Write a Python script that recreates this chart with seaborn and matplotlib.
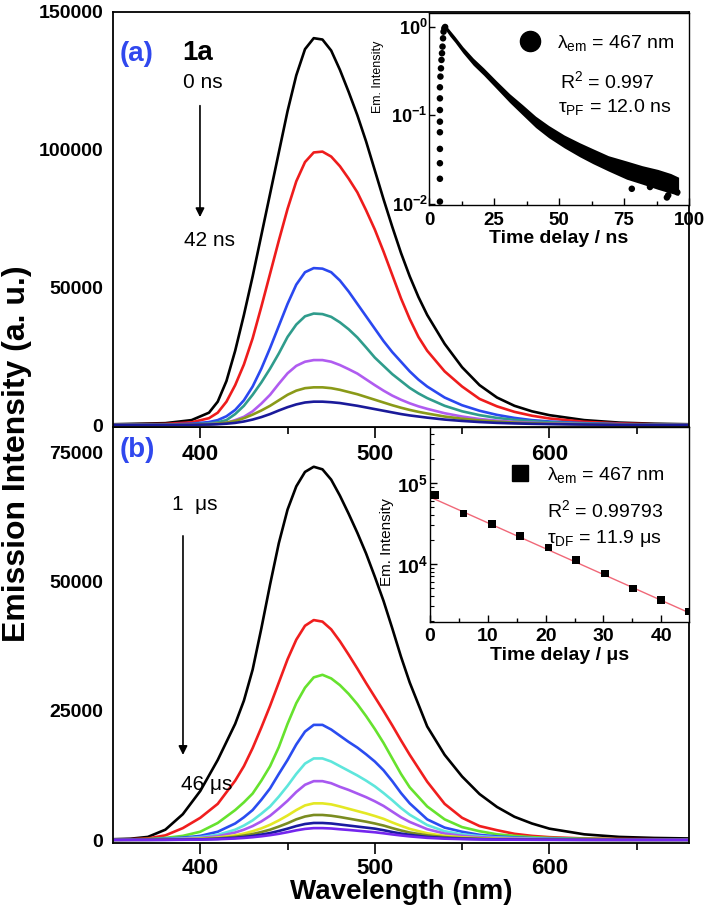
import numpy as np
import pandas as pd
import matplotlib
matplotlib.use("Agg")
import matplotlib.pyplot as plt
import seaborn as sns
from matplotlib.lines import Line2D
from matplotlib.ticker import FixedLocator, MultipleLocator, NullFormatter, LogLocator

# ---------------- data ----------------
# panel (a): prompt-fluorescence spectra, 0 ns -> 42 ns
wl_a = [350, 380, 395, 405, 410, 415, 420, 425, 430, 435, 440, 445, 450, 455, 460, 465, 470, 475, 480, 485,
        490, 495, 500, 505, 510, 515, 520, 525, 530, 540, 550, 560, 570, 580, 590, 600, 620, 640, 660, 680]
a_black = [300, 700, 1800, 4500, 8500, 16000, 27000, 40000, 54000, 69000, 84000, 99000, 114000, 127000, 136500, 140500, 140000, 136000, 129000, 121000,
           112500, 103000, 92500, 82000, 72000, 62500, 54000, 46500, 40000, 29500, 21000, 14500, 10000, 7000, 5000, 3600, 1800, 900, 500, 300]
a_red = [200, 400, 1000, 2500, 4500, 8500, 14500, 22000, 31500, 43000, 55000, 67000, 78500, 88500, 95500, 99000, 99300, 97500, 94000, 89500,
         84500, 78000, 71000, 63000, 54500, 46000, 38500, 32000, 27000, 19500, 14000, 9500, 6800, 4800, 3400, 2400, 1200, 600, 300, 200]
a_blue = [100, 200, 500, 1100, 1800, 3200, 5500, 9000, 14000, 20500, 28000, 36000, 44000, 51000, 55500, 57000, 56800, 55500, 52500, 48500,
          44000, 39500, 35000, 30500, 26500, 23000, 19500, 16500, 14000, 10000, 7200, 5200, 3700, 2600, 1800, 1300, 700, 350, 200, 100]
a_teal = [100, 150, 300, 600, 1000, 1800, 4000, 7000, 11000, 15500, 20500, 26000, 32000, 36500, 39500, 40500, 40300, 39300, 37300, 34800,
          31800, 28200, 24500, 21500, 18500, 16000, 13500, 11500, 9800, 7000, 5000, 3600, 2600, 1900, 1400, 1000, 550, 300, 150, 100]
a_violet = [50, 100, 200, 350, 500, 800, 1800, 3000, 5000, 7800, 11000, 15000, 18800, 21500, 23000, 23600, 23600, 23000, 21800, 20300,
            18700, 16600, 14500, 12500, 10700, 9200, 7900, 6800, 5900, 4300, 3100, 2200, 1600, 1150, 850, 600, 330, 180, 100, 50]
a_olive = [50, 80, 150, 250, 500, 900, 1500, 2500, 3800, 5300, 7000, 9000, 11000, 12500, 13400, 13700, 13700, 13400, 12800, 12000,
           11200, 10200, 9200, 8200, 7200, 6300, 5500, 4800, 4200, 3100, 2300, 1700, 1250, 900, 650, 480, 250, 130, 80, 50]
a_navy = [50, 60, 100, 200, 300, 500, 800, 1300, 2000, 2900, 4000, 5300, 6500, 7500, 8200, 8500, 8500, 8300, 8000, 7500,
          7000, 6400, 5800, 5200, 4600, 4000, 3500, 3100, 2700, 2000, 1500, 1100, 800, 600, 450, 350, 200, 100, 60, 50]
a_series = [a_black, a_red, a_blue, a_teal, a_violet, a_olive, a_navy]
a_delays = ["0 ns", "7 ns", "14 ns", "21 ns", "28 ns", "35 ns", "42 ns"]
a_colors = ["#000000", "#ee1c1c", "#2a48f0", "#2f9c8c", "#b05cf0", "#8a9a18", "#1a1a9a"]

# panel (b): delayed-fluorescence spectra, 1 us -> 46 us
wl_b = [350, 360, 370, 380, 390, 400, 410, 420, 425, 430, 435, 440, 445, 450, 455, 460, 465, 470, 475, 480,
        485, 490, 495, 500, 505, 510, 515, 520, 530, 540, 550, 560, 570, 580, 590, 600, 620, 640, 660, 680]
b_black = [150, 250, 600, 2000, 5000, 9500, 15500, 22500, 27000, 33000, 41000, 49500, 57500, 64000, 68500, 71300, 72300, 71800, 69800, 66700,
           63200, 59500, 55500, 51000, 46300, 41000, 35500, 30500, 22000, 16500, 12300, 8900, 6400, 4500, 3200, 2200, 1100, 600, 400, 300]
b_red = [100, 150, 300, 900, 2300, 4300, 7000, 11500, 14300, 17800, 21800, 26000, 30500, 35000, 38800, 41500, 42600, 42300, 40800, 38500,
         35900, 33200, 30400, 27700, 25000, 22200, 19300, 16500, 11300, 7000, 4300, 2700, 1900, 1200, 800, 550, 300, 200, 150, 100]
b_green = [80, 120, 180, 400, 800, 1600, 3300, 5800, 7300, 9000, 11500, 14300, 18000, 22500, 26500, 29500, 31500, 32000, 31300, 30000,
           28300, 26300, 24000, 21500, 18800, 15800, 12800, 10200, 6500, 4000, 2500, 1700, 1100, 800, 550, 400, 250, 150, 100, 80]
b_blue = [60, 90, 130, 250, 450, 800, 1600, 3200, 4400, 5800, 7800, 10000, 12800, 15500, 18500, 21000, 22300, 22300, 21400, 20200,
          19000, 17900, 16600, 15200, 13500, 11400, 9100, 7100, 4000, 2400, 1600, 1000, 700, 500, 350, 250, 150, 100, 80, 50]
b_cyan = [50, 70, 100, 180, 300, 550, 1000, 2000, 2800, 3800, 5100, 6500, 8400, 10500, 12800, 14800, 15800, 15800, 15200, 14300,
          13400, 12500, 11500, 10400, 9100, 7700, 6200, 4900, 2900, 1700, 1100, 750, 500, 380, 280, 200, 120, 80, 60, 50]
b_violet = [40, 60, 80, 130, 220, 400, 720, 1450, 2000, 2700, 3600, 4700, 6100, 7600, 9300, 10700, 11400, 11400, 11000, 10300,
            9700, 9000, 8300, 7500, 6600, 5500, 4400, 3500, 2100, 1250, 800, 550, 380, 280, 200, 150, 90, 60, 50, 40]
b_yellow = [30, 40, 50, 90, 150, 260, 470, 900, 1250, 1700, 2250, 2950, 3800, 4750, 5800, 6700, 7100, 7100, 6900, 6500,
            6050, 5600, 5150, 4650, 4100, 3400, 2750, 2150, 1300, 800, 520, 350, 250, 180, 130, 100, 60, 40, 30, 30]
b_olive = [20, 30, 40, 60, 100, 180, 320, 620, 860, 1150, 1550, 2000, 2600, 3250, 4000, 4550, 4850, 4850, 4700, 4450,
           4150, 3850, 3550, 3200, 2800, 2300, 1850, 1450, 900, 550, 360, 240, 170, 120, 90, 70, 40, 30, 20, 20]
b_navy = [20, 25, 30, 40, 70, 120, 220, 420, 580, 780, 1050, 1350, 1750, 2200, 2700, 3100, 3300, 3300, 3200, 3000,
          2800, 2600, 2400, 2200, 1900, 1550, 1250, 1000, 600, 380, 250, 170, 120, 80, 60, 50, 30, 20, 15, 15]
b_purple = [15, 18, 20, 30, 50, 85, 150, 290, 400, 540, 720, 940, 1200, 1520, 1870, 2150, 2300, 2300, 2230, 2080,
            1950, 1800, 1650, 1500, 1300, 1080, 880, 700, 420, 260, 170, 120, 80, 60, 45, 35, 20, 15, 10, 10]
b_series = [b_black, b_red, b_green, b_blue, b_cyan, b_violet, b_yellow, b_olive, b_navy, b_purple]
b_delays = ["1 us", "6 us", "11 us", "16 us", "21 us", "26 us", "31 us", "36 us", "41 us", "46 us"]
b_colors = ["#000000", "#f01e1e", "#66e22e", "#2a4cf0", "#5ee6dc", "#a858f0", "#e4e824", "#7a8c20", "#1a1aa0", "#7426ee"]

# inset (a): prompt fluorescence decay (normalised)
pf_rise_t = [4.2, 4.2, 4.2, 4.2, 4.2, 4.2, 4.2, 4.2, 4.2, 4.4, 4.6, 4.8, 5.0, 5.2, 5.4, 5.6, 5.9, 6.2,
             78.0, 85.0, 91.5, 92.0, 95.5]
pf_rise_i = [0.0106, 0.0192, 0.0288, 0.0418, 0.0645, 0.085, 0.115, 0.156, 0.208, 0.275, 0.341, 0.424, 0.505, 0.6, 0.745, 0.885, 0.966, 1.0,
             0.0148, 0.0155, 0.0118, 0.0125, 0.0135]
band_t = [6.2, 8, 10, 13, 17, 21, 26, 31, 36, 41, 46, 52, 58, 63, 69, 76, 82, 88, 93, 96]
band_hi = [1.07, 0.92, 0.78, 0.6, 0.445, 0.345, 0.245, 0.176, 0.132, 0.098, 0.077, 0.06, 0.049, 0.042, 0.035, 0.0305, 0.027, 0.0245, 0.022, 0.02]
band_lo = [0.94, 0.79, 0.67, 0.51, 0.37, 0.285, 0.2, 0.14, 0.101, 0.073, 0.056, 0.043, 0.034, 0.0285, 0.0235, 0.019, 0.0167, 0.0146, 0.0132, 0.0125]

# inset (b): delayed fluorescence decay
df_t = [0.9, 5.8, 10.7, 15.6, 20.5, 25.3, 30.3, 35.1, 40.0, 44.7]
df_i = [70500, 41800, 31200, 22200, 15900, 11200, 7600, 4950, 3600, 2580]
fit_t = [0.0, 44.8]
fit_i = [67000, 2500]

# ---------------- style ----------------
sns.set_theme(style="ticks")
plt.rcParams["font.family"] = ["Liberation Sans", "DejaVu Sans"]
plt.rcParams["mathtext.fontset"] = "custom"
plt.rcParams["mathtext.rm"] = "Liberation Sans"
plt.rcParams["mathtext.it"] = "Liberation Sans:italic"
plt.rcParams["mathtext.bf"] = "Liberation Sans:bold"
plt.rcParams["axes.linewidth"] = 1.2
for key in ["text.color", "axes.labelcolor", "xtick.color", "ytick.color", "axes.edgecolor",
            "xtick.labelcolor", "ytick.labelcolor"]:
    plt.rcParams[key] = "black"

W, H = 708, 916
fig = plt.figure(figsize=(W / 100, H / 100), dpi=100)


def px_axes(l, t, r, b):
    return fig.add_axes([l / W, 1 - b / H, (r - l) / W, (b - t) / H])


ax_b = px_axes(113, 427, 689, 843)
in_b = px_axes(430, 427, 689, 622)
ax_a = px_axes(113, 12, 689, 427)
in_a = px_axes(429, 13, 689, 205)
ax_b.set_zorder(1)
in_b.set_zorder(2)
ax_a.set_zorder(3)
in_a.set_zorder(4)


def long_df(wl, series, names):
    rows = []
    for s, n in zip(series, names):
        rows.append(pd.DataFrame({"wl": wl, "I": s, "delay": n}))
    return pd.concat(rows, ignore_index=True)


dfa = long_df(wl_a, a_series, a_delays)
dfb = long_df(wl_b, b_series, b_delays)

sns.lineplot(data=dfa, x="wl", y="I", hue="delay", hue_order=a_delays,
             palette=dict(zip(a_delays, a_colors)), estimator=None, sort=False,
             lw=1.9, legend=False, ax=ax_a)
sns.lineplot(data=dfb, x="wl", y="I", hue="delay", hue_order=b_delays,
             palette=dict(zip(b_delays, b_colors)), estimator=None, sort=False,
             lw=1.9, legend=False, ax=ax_b)

xt = [400, 500, 600]
xt_lab = ["400", "500", "600"]
for ax, ylim, yt, ytl, xpad in [(ax_a, (-700, 150000), [0, 50000, 100000, 150000], ["0", "50000", "100000", "150000"], 4),
                                (ax_b, (-580, 80000), [0, 25000, 50000, 75000], ["0", "25000", "50000", "75000"], 2.5)]:
    ax.set_xlim(350, 680)
    ax.set_ylim(*ylim)
    ax.xaxis.set_major_locator(FixedLocator(xt))
    ax.set_xticklabels(xt_lab, fontsize=16, fontweight="bold", color="black")
    ax.xaxis.set_minor_locator(FixedLocator([450, 550, 650]))
    ax.yaxis.set_major_locator(FixedLocator(yt))
    ax.set_yticklabels(ytl, fontsize=14, fontweight="bold", color="black")
    ax.tick_params(axis="x", which="major", direction="out", length=8, width=1.2, pad=xpad, colors="black")
    ax.tick_params(axis="x", which="minor", direction="out", length=5, width=1.2, colors="black")
    ax.tick_params(axis="y", which="both", length=0, pad=7, colors="black")
    ax.set_xlabel("")
    ax.set_ylabel("")
    for sp in ax.spines.values():
        sp.set_visible(True)
        sp.set_color("black")
        sp.set_linewidth(1.3)
    ax.set_facecolor("white")

ax_b.set_xlabel("Wavelength (nm)", fontsize=20, fontweight="bold", labelpad=0, color="black")
fig.text(17 / W, 1 - 454 / H, "Emission Intensity (a. u.)", rotation=90, ha="center", va="center",
         fontsize=23, fontweight="bold", color="black")

# panel annotations
ax_a.text(0.0417, 0.899, "(a)", transform=ax_a.transAxes, ha="center", va="center",
          fontsize=20, fontweight="bold", color="#3048ee")
ax_a.text(0.1476, 0.901, "1a", transform=ax_a.transAxes, ha="center", va="center",
          fontsize=20, fontweight="bold", color="black")
ax_a.text(0.156, 0.831, "0 ns", transform=ax_a.transAxes, ha="center", va="center", fontsize=15, color="black")
ax_a.text(0.1667, 0.4506, "42 ns", transform=ax_a.transAxes, ha="center", va="center", fontsize=15, color="black")
ax_a.annotate("", xy=(0.151, 0.499), xytext=(0.151, 0.781), xycoords="axes fraction",
              arrowprops=dict(arrowstyle="-|>", color="black", lw=1.2, mutation_scale=13))

ax_b.text(0.0417, 0.945, "(b)", transform=ax_b.transAxes, ha="center", va="center",
          fontsize=20, fontweight="bold", color="#3048ee")
ax_b.text(0.142, 0.8125, "1  μs", transform=ax_b.transAxes, ha="center", va="center", fontsize=15, color="black")
ax_b.text(0.162, 0.140, "46 μs", transform=ax_b.transAxes, ha="center", va="center", fontsize=15, color="black")
ax_b.annotate("", xy=(0.1215, 0.205), xytext=(0.1215, 0.745), xycoords="axes fraction",
              arrowprops=dict(arrowstyle="-|>", color="black", lw=1.2, mutation_scale=13))

# ---------------- inset (a) ----------------
in_a.set_yscale("log")
in_a.fill_between(band_t, band_lo, band_hi, color="black", lw=0)
sns.scatterplot(x=pf_rise_t, y=pf_rise_i, ax=in_a, color="black", s=22, edgecolor="none", legend=False)
in_a.set_xlim(0, 100)
in_a.set_ylim(0.0097, 1.44)
in_a.xaxis.set_major_locator(FixedLocator([0, 25, 50, 75, 100]))
in_a.set_xticklabels(["0", "25", "50", "75", "100"], fontsize=13.5, fontweight="bold", color="black")
in_a.xaxis.set_minor_locator(MultipleLocator(12.5))
in_a.yaxis.set_major_locator(FixedLocator([0.01, 0.1, 1.0]))
in_a.set_yticklabels([r"$\mathbf{10^{-2}}$", r"$\mathbf{10^{-1}}$", r"$\mathbf{10^{0}}$"], fontsize=13, color="black")
in_a.yaxis.set_minor_locator(FixedLocator([]))
in_a.tick_params(axis="x", which="major", direction="in", length=5, width=1.0, pad=5, colors="black")
in_a.tick_params(axis="x", which="minor", direction="in", length=3, width=1.0, colors="black")
in_a.tick_params(axis="y", which="major", direction="in", length=4, width=1.0, pad=1, colors="black")
in_a.set_xlabel("Time delay / ns", fontsize=14, fontweight="bold", labelpad=1, color="black")
in_a.set_ylabel("")
in_a.text(-0.196, 0.667, "Em. Intensity", transform=in_a.transAxes, rotation=90,
          ha="center", va="center", fontsize=9, color="black")
for sp in in_a.spines.values():
    sp.set_visible(True)
    sp.set_color("black")
    sp.set_linewidth(1.0)
in_a.set_facecolor("white")
in_a.legend(handles=[Line2D([], [], marker="o", ls="", color="black", ms=14.5)],
            labels=[r"λ$_{\mathrm{em}}$ = 467 nm"], loc="center left",
            bbox_to_anchor=(0.351, 0.845), frameon=False, fontsize=14,
            handlelength=1.0, handletextpad=0.9, borderpad=0, borderaxespad=0, labelcolor="black")
in_a.text(0.504, 0.609, r"R$^{2}$ = 0.997", transform=in_a.transAxes, ha="left", va="baseline", fontsize=14, color="black")
in_a.text(0.496, 0.484, r"τ$_{\mathrm{PF}}$ = 12.0 ns", transform=in_a.transAxes, ha="left", va="baseline", fontsize=14, color="black")

# ---------------- inset (b) ----------------
in_b.set_yscale("log")
sns.lineplot(x=fit_t, y=fit_i, ax=in_b, color="#f06878", lw=1.0, legend=False)
sns.scatterplot(x=df_t, y=df_i, ax=in_b, color="black", marker="s", s=30, edgecolor="none", legend=False, zorder=3)
in_b.set_xlim(0, 44.8)
in_b.set_ylim(1920, 4.9e5)
in_b.xaxis.set_major_locator(FixedLocator([0, 10, 20, 30, 40]))
in_b.set_xticklabels(["0", "10", "20", "30", "40"], fontsize=14, fontweight="bold", color="black")
in_b.xaxis.set_minor_locator(MultipleLocator(5))
in_b.yaxis.set_major_locator(FixedLocator([1e4, 1e5]))
in_b.set_yticklabels([r"$\mathbf{10^{4}}$", r"$\mathbf{10^{5}}$"], fontsize=14, color="black")
in_b.yaxis.set_minor_locator(LogLocator(base=10, subs=np.arange(2, 10)))
in_b.yaxis.set_minor_formatter(NullFormatter())
in_b.tick_params(axis="x", which="major", direction="in", length=5, width=1.0, pad=4, colors="black")
in_b.tick_params(axis="x", which="minor", direction="in", length=3, width=1.0, colors="black")
in_b.tick_params(axis="y", which="major", direction="in", length=5, width=1.0, pad=1, colors="black")
in_b.tick_params(axis="y", which="minor", direction="in", length=3, width=0.8, colors="black")
in_b.set_xlabel("Time delay / μs", fontsize=14, fontweight="bold", labelpad=2, color="black")
in_b.set_ylabel("")
in_b.text(-0.165, 0.41, "Em. Intensity", transform=in_b.transAxes, rotation=90,
          ha="center", va="center", fontsize=11, color="black")
for sp in in_b.spines.values():
    sp.set_visible(True)
    sp.set_color("black")
    sp.set_linewidth(1.0)
in_b.set_facecolor("white")
in_b.legend(handles=[Line2D([], [], marker="s", ls="", color="black", ms=11.5)],
            labels=[r"λ$_{\mathrm{em}}$ = 467 nm"], loc="center left",
            bbox_to_anchor=(0.310, 0.754), frameon=False, fontsize=14,
            handlelength=1.0, handletextpad=0.89, borderpad=0, borderaxespad=0, labelcolor="black")
in_b.text(0.452, 0.538, r"R$^{2}$ = 0.99793", transform=in_b.transAxes, ha="left", va="baseline", fontsize=14, color="black")
in_b.text(0.452, 0.405, r"τ$_{\mathrm{DF}}$ = 11.9 μs", transform=in_b.transAxes, ha="left", va="baseline", fontsize=14, color="black")

fig.savefig("out.png", dpi=100, facecolor="white")
